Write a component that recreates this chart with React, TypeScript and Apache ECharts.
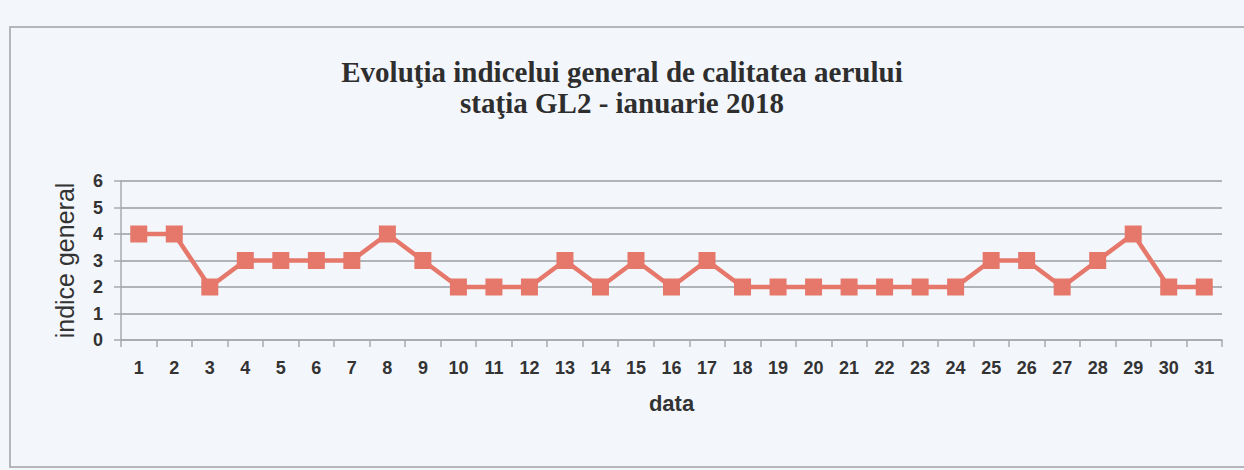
import React, { useEffect, useRef } from "react";
import * as echarts from "echarts";

const days: string[] = [
  "1", "2", "3", "4", "5", "6", "7", "8", "9", "10", "11", "12", "13", "14", "15", "16",
  "17", "18", "19", "20", "21", "22", "23", "24", "25", "26", "27", "28", "29", "30", "31",
];
const indiceGeneral: number[] = [
  4, 4, 2, 3, 3, 3, 3, 4, 3, 2, 2, 2, 3, 2, 3, 2,
  3, 2, 2, 2, 2, 2, 2, 2, 3, 3, 2, 3, 4, 2, 2,
];
const titleLines: string[] = [
  "Evoluţia indicelui general de calitatea aerului",
  "staţia GL2 - ianuarie 2018",
];
const yAxisName = "indice general";
const xAxisName = "data";

export default function App() {
  const ref = useRef<HTMLDivElement>(null);
  useEffect(() => {
    if (!ref.current) return;
    const chart = echarts.init(ref.current, undefined, { renderer: "svg" });
    chart.setOption({
      animation: false,
      backgroundColor: "#f3f7fc",
      title: {
        text: titleLines.join("\n"),
        left: "center",
        top: 56,
        padding: [0, 0, 0, 20],
        textStyle: {
          fontFamily: "Liberation Serif, Times New Roman, serif",
          fontWeight: "bold",
          fontSize: 29,
          lineHeight: 31,
          color: "#2e2e2e",
        },
      },
      graphic: [
        {
          type: "rect",
          shape: { x: 10, y: 27, width: 1250, height: 440 },
          style: { fill: "none", stroke: "#b4b6ba", lineWidth: 2 },
          silent: true,
        },
      ],
      grid: { left: 121, right: 22, top: 181, height: 159, containLabel: false },
      xAxis: {
        type: "category",
        data: days,
        boundaryGap: true,
        name: xAxisName,
        nameLocation: "middle",
        nameGap: 52,
        nameTextStyle: {
          fontFamily: "Liberation Sans, Arial, sans-serif",
          fontWeight: "bold",
          fontSize: 22,
          color: "#333",
        },
        axisLine: { lineStyle: { color: "#a8aaae", width: 1.5 } },
        axisTick: { show: true, length: 7, lineStyle: { color: "#a8aaae", width: 1.5 } },
        axisLabel: {
          margin: 19,
          fontFamily: "Liberation Sans, Arial, sans-serif",
          fontWeight: "bold",
          fontSize: 18,
          color: "#333",
        },
        splitLine: { show: false },
      },
      yAxis: {
        type: "value",
        min: 0,
        max: 6,
        interval: 1,
        name: yAxisName,
        nameLocation: "middle",
        nameGap: 44,
        nameTextStyle: {
          fontFamily: "Liberation Sans, Arial, sans-serif",
          fontSize: 25,
          color: "#333",
        },
        axisLine: { show: true, lineStyle: { color: "#a8aaae", width: 1.5 } },
        axisTick: { show: true, length: 7, lineStyle: { color: "#a8aaae", width: 1.5 } },
        axisLabel: {
          margin: 18,
          fontFamily: "Liberation Sans, Arial, sans-serif",
          fontWeight: "bold",
          fontSize: 18,
          color: "#333",
        },
        splitLine: { show: true, lineStyle: { color: "#9a9ca0", width: 1.5 } },
      },
      series: [
        {
          type: "line",
          data: indiceGeneral,
          symbol: "rect",
          symbolSize: 17,
          lineStyle: { color: "#e6776b", width: 4.5 },
          itemStyle: { color: "#e6776b" },
        },
      ],
    });
    return () => chart.dispose();
  }, []);
  return (
    <div
      ref={ref}
      style={{ position: "absolute", left: 0, top: 0, width: 1244, height: 470 }}
    />
  );
}
